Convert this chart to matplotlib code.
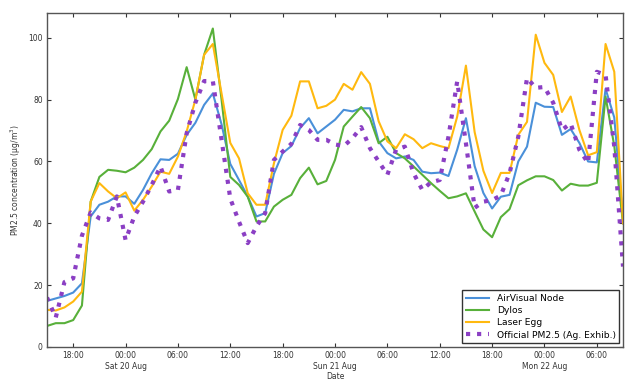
import numpy as np
import pandas as pd
import matplotlib
matplotlib.use('Agg')
import matplotlib.pyplot as plt
import matplotlib.dates as mdates
from matplotlib.ticker import FuncFormatter

# hourly readings, 19 Aug 15:00 -> 22 Aug 09:00
times = pd.date_range('2016-08-19 15:00', periods=67, freq='h')

airvisual = [14.9, 15.7, 16.5, 17.6, 20.6, 42.2, 46, 47, 48.7, 48.7,
             46.3, 50.8, 56.2, 60.7, 60.5, 62.5, 68.6, 72.5, 78.3, 82,
             72, 59.2, 54, 48.7, 42.2, 43.3, 56, 62.7, 65, 70.8,
             74, 69.1, 71.3, 73.5, 76.7, 76.2, 77.2, 77.2, 66.5, 62.7,
             61, 61.6, 60.5, 56.7, 56.2, 56.4, 55.3, 63.8, 74, 58.5,
             49.8, 44.8, 48.6, 49.2, 60, 64.8, 79, 77.7, 77.6, 68.6,
             70.5, 66, 60, 59.7, 83.5, 74.2, 41]

dylos = [6.8, 7.7, 7.7, 8.7, 13.4, 47, 55, 57.3, 57, 56.5,
         58, 60.5, 64, 69.7, 73.2, 80.2, 90.5, 80, 94.5, 103,
         80, 55, 52.4, 48.6, 40.6, 40.6, 45.4, 47.6, 49.2, 54.6,
         58, 52.6, 53.7, 60.5, 71.3, 74.5, 77.6, 74, 65.9, 68,
         62.7, 61, 58.4, 55.7, 53, 50.5, 48.1, 48.7, 49.7, 43.8,
         38, 35.5, 42, 44.6, 52.3, 53.9, 55.2, 55.2, 54, 50.6,
         52.8, 52.2, 52.2, 53.1, 81, 65, 40]

laser_egg = [12, 11.8, 12.8, 14.7, 17.9, 47, 53, 50.3, 48.1, 50,
             44.1, 47.6, 51.9, 56.7, 56, 61.6, 69.7, 80, 94.5, 98,
             82, 66, 61, 49.7, 46, 46, 59.4, 70.2, 74.8, 85.9,
             85.9, 77.2, 78, 80, 85.1, 83.2, 88.9, 85.1, 73, 66.5,
             64.3, 68.8, 67.2, 64.3, 65.9, 65, 64.3, 74.5, 91, 69.5,
             57, 49.8, 56.3, 56.3, 68.6, 72.8, 101, 91.9, 88, 76,
             81, 70.2, 62, 63, 98, 89, 40]

official = [16, 9.5, 21, 22.2, 36, 43.5, 41.6, 41.1, 48.7, 34.6,
            42.2, 47, 52.4, 58.4, 50.3, 50.8, 69.1, 79, 86, 86,
            67, 48, 40.5, 33.6, 39, 43.3, 60.5, 63.2, 65.7, 71.8,
            70.2, 67, 67, 65.5, 65, 67.5, 71.1, 64.3, 60, 55.7,
            63.8, 64.8, 56.2, 50.8, 53.3, 54, 68, 85.9, 65.9, 45,
            47, 47.5, 49, 56.2, 68, 87, 83.8, 84.1, 79, 70.2,
            72.3, 63.8, 59.5, 89, 88, 64.8, 26]

fig = plt.figure(figsize=(6.38, 3.84), dpi=100)
ax = fig.add_axes([0.0737, 0.0964, 0.9028, 0.8696])

ax.plot(times, airvisual, color='#4a90d9', lw=1.5, label='AirVisual Node')
ax.plot(times, dylos, color='#58b03a', lw=1.5, label='Dylos')
ax.plot(times, laser_egg, color='#ffb90f', lw=1.5, label='Laser Egg')
ax.plot(times, official, color='#8b3fc4', lw=3, ls=':', label='Official PM2.5 (Ag. Exhib.)')

ax.set_xlim(times[0], times[-1])
ax.set_ylim(0, 108)
ax.set_yticks([0, 20, 40, 60, 80, 100])

ax.xaxis.set_major_locator(mdates.HourLocator(byhour=[0, 6, 12, 18]))


def fmt(x, pos):
    d = mdates.num2date(x)
    if d.hour == 0:
        return d.strftime('%H:%M') + '\n' + d.strftime('%a %d %b')
    return d.strftime('%H:%M')


ax.xaxis.set_major_formatter(FuncFormatter(fmt))
ax.tick_params(direction='in', top=True, right=True, length=3, width=0.8,
               labelsize=5.5, colors='#333333', pad=3)
for s in ax.spines.values():
    s.set_color('#555555')
    s.set_linewidth(1)

ax.set_ylabel('PM2.5 concentration (\u00b5g/m$^3$)', fontsize=5.5, color='#333333')
ax.set_xlabel('Date', fontsize=5.5, color='#333333', labelpad=1)

leg = ax.legend(loc='lower right', fontsize=6.6, fancybox=False, framealpha=1,
                edgecolor='#333333', handlelength=2.6, borderpad=0.4,
                labelspacing=0.35, borderaxespad=0.4)
leg.get_frame().set_linewidth(1)

fig.savefig('out.png', dpi=100)
